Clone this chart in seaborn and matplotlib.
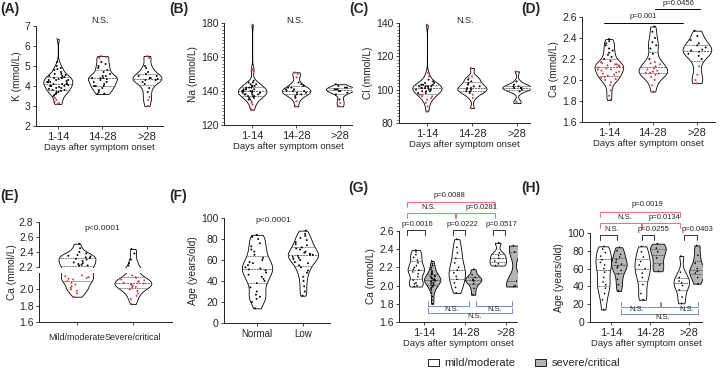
import numpy as np
import pandas as pd
import matplotlib.pyplot as plt
import seaborn as sns
from matplotlib.patches import Patch
from matplotlib.collections import PolyCollection, PathCollection
from matplotlib.ticker import MultipleLocator
import warnings
warnings.filterwarnings("ignore")

# ---- data ----
days = ["1-14", "14-28", ">28"]
severity = ["mild/moderate", "severe/critical"]
ca_status = ["Normal", "Low"]

k_1_14 = [3.1, 3.15, 3.2, 3.3, 3.4, 3.5, 3.55, 3.6, 3.65, 3.7, 3.7, 3.75, 3.8, 3.8, 3.85, 3.9, 3.9,
          3.95, 4.0, 4.0, 4.0, 4.05, 4.1, 4.1, 4.1, 4.15, 4.2, 4.2, 4.2, 4.25, 4.3, 4.3, 4.3, 4.35,
          4.4, 4.4, 4.4, 4.45, 4.5, 4.5, 4.55, 4.6, 4.6, 4.7, 4.8, 4.85, 4.9, 5.0, 5.2, 6.35]
k_14_28 = [3.6, 3.62, 3.7, 3.8, 3.9, 4.0, 4.0, 4.0, 4.1, 4.2, 4.2, 4.3, 4.35, 4.4, 4.4, 4.4, 4.5,
           4.5, 4.6, 4.7, 4.8, 4.9, 5.0, 5.1, 5.2, 5.4, 5.45, 5.5]
k_over28 = [3.0, 3.3, 3.45, 3.7, 3.9, 4.1, 4.2, 4.3, 4.3, 4.35, 4.4, 4.4, 4.5, 4.5, 4.6, 4.7,
            4.9, 5.0, 5.4, 5.5]

na_1_14 = [129, 130, 132, 133, 134, 135, 135, 136, 136, 137, 137, 137, 138, 138, 138, 138, 139,
           139, 139, 139, 140, 140, 140, 140, 140, 141, 141, 141, 141, 142, 142, 142, 143, 143,
           143, 144, 144, 145, 145, 146, 152, 153, 179]
na_14_28 = [131, 134, 136, 137, 138, 138, 139, 139, 140, 140, 140, 141, 141, 142, 142, 143, 144,
            145, 148, 150, 151]
na_over28 = [131, 133, 135, 138, 139, 140, 140, 141, 141, 141, 142, 142, 143, 144]

cl_1_14 = [87, 90, 92, 94, 95, 96, 96, 97, 97, 98, 98, 99, 99, 99, 100, 100, 100, 101, 101, 101,
           101, 102, 102, 102, 102, 103, 103, 103, 104, 104, 105, 106, 108, 110, 139]
cl_14_28 = [89, 95, 97, 98, 99, 99, 100, 100, 101, 101, 102, 102, 103, 104, 105, 106, 107, 108, 113]
cl_over28 = [92, 93, 99, 100, 101, 101, 101, 101, 102, 102, 103, 105, 111]

ca_1_14 = [1.81, 1.85, 1.9, 1.95, 1.98, 2.0, 2.01, 2.02, 2.03, 2.04, 2.05, 2.06, 2.07, 2.08, 2.09,
           2.1, 2.1, 2.11, 2.12, 2.13, 2.14, 2.14, 2.15, 2.15, 2.16, 2.17, 2.18, 2.2, 2.22, 2.24,
           2.26, 2.28, 2.3, 2.33, 2.35, 2.37, 2.39]
ca_14_28 = [1.89, 1.95, 2.0, 2.03, 2.05, 2.06, 2.07, 2.07, 2.08, 2.09, 2.1, 2.11, 2.13, 2.15, 2.16,
            2.17, 2.2, 2.25, 2.3, 2.33, 2.36, 2.4, 2.46, 2.51]
ca_over28 = [1.97, 2.0, 2.05, 2.13, 2.2, 2.23, 2.25, 2.27, 2.28, 2.29, 2.31, 2.33, 2.35, 2.38,
             2.42, 2.47]

ca_mild = [1.91, 1.95, 1.98, 2.0, 2.02, 2.04, 2.06, 2.08, 2.1, 2.12, 2.13, 2.14, 2.15, 2.16, 2.17,
           2.22, 2.22, 2.23, 2.24, 2.25, 2.26, 2.28, 2.3, 2.31, 2.32, 2.33, 2.34, 2.35, 2.36, 2.38,
           2.4, 2.45, 2.51]
ca_severe = [1.82, 1.88, 1.92, 1.95, 1.98, 2.0, 2.02, 2.03, 2.04, 2.05, 2.06, 2.07, 2.08, 2.09,
             2.1, 2.11, 2.12, 2.14, 2.15, 2.17, 2.22, 2.25, 2.3, 2.38, 2.44]

age_normal = [14, 20, 23, 25, 27, 30, 34, 38, 40, 42, 44, 46, 48, 50, 51, 52, 53, 55, 57, 58, 60,
              62, 65, 68, 70, 73, 76, 80, 82, 84]
age_low = [26, 30, 35, 40, 44, 48, 50, 53, 55, 57, 58, 60, 61, 62, 63, 64, 65, 65, 66, 67, 68, 70,
           71, 72, 74, 75, 77, 79, 81, 83, 85, 88]

g_ca_mild = {
    "1-14": [1.99, 2.0, 2.02, 2.03, 2.06, 2.1, 2.13, 2.15, 2.17, 2.18, 2.2, 2.22, 2.25, 2.28, 2.31,
             2.34, 2.37, 2.39],
    "14-28": [1.92, 1.98, 2.03, 2.07, 2.1, 2.14, 2.17, 2.2, 2.25, 2.3, 2.36, 2.42, 2.51],
    ">28": [2.22, 2.24, 2.27, 2.3, 2.33, 2.36, 2.47],
}
g_ca_severe = {
    "1-14": [1.8, 1.84, 1.88, 1.92, 1.95, 1.97, 1.98, 1.99, 2.0, 2.01, 2.02, 2.03, 2.03, 2.04, 2.05,
             2.05, 2.06, 2.06, 2.07, 2.07, 2.08, 2.08, 2.09, 2.1, 2.1, 2.11, 2.12, 2.13, 2.14,
             2.15, 2.16, 2.18, 2.2, 2.22, 2.24, 2.27],
    "14-28": [1.9, 1.97, 2.02, 2.05, 2.06, 2.07, 2.09, 2.12, 2.18],
    ">28": [1.99, 2.0, 2.05, 2.37, 2.44],
}
h_age_mild = {
    "1-14": [14, 25, 32, 38, 42, 45, 50, 56, 60, 64, 67, 70, 74, 78, 82, 85],
    "14-28": [25, 32, 42, 50, 55, 60, 64, 68, 73, 79, 85],
    ">28": [21, 28, 36, 41, 44, 46, 50, 56, 74],
}
h_age_severe = {
    "1-14": [35, 42, 48, 54, 58, 61, 63, 65, 67, 70, 73, 76, 80, 84],
    "14-28": [57, 64, 72, 79, 83, 88],
    ">28": [43, 50, 55, 57, 60, 66, 75, 86],
}

RED = "#e0303a"
BR_RED = "#e57373"
BR_BLUE = "#7b8cc8"
GREY = "#b4b4b4"

sns.set_style("ticks")
plt.rcParams['font.family'] = ['Liberation Sans', 'DejaVu Sans']

fig = plt.figure(figsize=(7.2, 3.7), dpi=100)


def add_ax(left, top, right, bottom):
    return fig.add_axes([left / 720, 1 - bottom / 370, (right - left) / 720, (bottom - top) / 370])


def long_df(groups, arrays, low=None, high=None):
    rows = [(g, v) for g, arr in zip(groups, arrays) for v in arr]
    df = pd.DataFrame(rows, columns=["group", "value"])
    abn = np.zeros(len(df), dtype=bool)
    if low is not None:
        abn |= df["value"] < low
    if high is not None:
        abn |= df["value"] > high
    df["flag"] = np.where(abn, "abn", "ok")
    return df


def style(ax, xfs=8):
    sns.despine(ax=ax)
    ax.tick_params(axis='y', labelsize=7.5, length=2.5, width=0.6, pad=1.5)
    ax.tick_params(axis='x', labelsize=xfs, length=2, width=0.6, pad=2)
    for s in ax.spines.values():
        s.set_linewidth(0.7)
        s.set_color("#222222")


def fit_dots(ax, jmax, fill=0.8):
    # spread the jittered dots in proportion to the violin width at their height
    shapes = []
    for c in ax.collections:
        if isinstance(c, PolyCollection):
            for p in c.get_paths():
                v = p.vertices
                cx = (v[:, 0].min() + v[:, 0].max()) / 2
                right = v[v[:, 0] >= cx]
                o = np.argsort(right[:, 1])
                shapes.append((cx, right[o, 1], right[o, 0] - cx))
    if not shapes:
        return
    centers = np.array([s[0] for s in shapes])
    for c in ax.collections:
        if isinstance(c, PathCollection):
            off = c.get_offsets()
            if len(off) == 0:
                continue
            off = np.array(off, dtype=float)
            for k in range(len(off)):
                x, y = off[k]
                j = np.argmin(np.abs(centers - x))
                cx, ys, hw = shapes[j]
                w = np.interp(y, ys, hw)
                off[k, 0] = cx + (x - cx) / jmax * w * fill
            c.set_offsets(off)


def simple_violins(ax, df, order, width=0.65, seed=1):
    sns.violinplot(data=df, x="group", y="value", order=order, color="white",
                   linecolor="black", linewidth=0.6, inner="quart", cut=0, bw_adjust=0.6,
                   density_norm="width", width=width,
                   inner_kws=dict(color="0.35", linewidth=0.6), ax=ax)
    np.random.seed(seed)
    sns.stripplot(data=df, x="group", y="value", order=order, hue="flag",
                  hue_order=["ok", "abn"], palette={"ok": "black", "abn": RED},
                  size=1.4, jitter=0.2, legend=False, ax=ax)
    fit_dots(ax, 0.2)


def hue_violins(ax, mild, severe, seed=5):
    rows = [(d, severity[0], v) for d in days for v in mild[d]]
    rows += [(d, severity[1], v) for d in days for v in severe[d]]
    df = pd.DataFrame(rows, columns=["group", "sev", "value"])
    sns.violinplot(data=df, x="group", y="value", order=days, hue="sev", hue_order=severity,
                   palette={severity[0]: "white", severity[1]: GREY}, linecolor="black",
                   linewidth=0.6, inner="quart", cut=0, bw_adjust=0.6, density_norm="width",
                   width=0.8, inner_kws=dict(color="0.3", linewidth=0.6), legend=False, ax=ax)
    np.random.seed(seed)
    sns.stripplot(data=df, x="group", y="value", order=days, hue="sev", hue_order=severity,
                  palette=["black", "black"], dodge=True, jitter=0.08, size=1.2,
                  legend=False, ax=ax)
    fit_dots(ax, 0.08)


def bracket(ax, x0, x1, y, tick, color):
    ax.plot([x0, x0, x1, x1], [y - tick, y, y, y - tick], color=color, lw=0.7, clip_on=False)


def note(ax, x, y, s, fs=5.5):
    ax.text(x, y, s, ha="center", va="center", fontsize=fs, clip_on=False)


# ---- top row ----
top_panels = [
    ((36, 26, 163, 126), [k_1_14, k_14_28, k_over28], 3.5, 5.3, (2, 7), np.arange(2, 8, 1),
     "K (mmol/L)", (-0.49, 2.36), (0.95, 7.26), None),
    ((224, 23, 352, 125), [na_1_14, na_14_28, na_over28], 135, 147, (120, 180),
     np.arange(120, 181, 20), "Na (mmol/L)", (-0.64, 2.27), (0.98, 181.2), 2),
    ((399, 23, 530, 123), [cl_1_14, cl_14_28, cl_over28], 98, 106, (80, 140),
     np.arange(80, 141, 20), "Cl (mmol/L)", (-0.62, 2.29), (0.84, 141.2), 2),
    ((582, 17, 715, 122), [ca_1_14, ca_14_28, ca_over28], 2.18, None, (1.6, 2.6),
     np.round(np.arange(1.6, 2.61, 0.2), 1), "Ca (mmol/L)", (-0.61, 2.41), None, None),
]
for i, (box, arrays, lo, hi, ylim, yticks, ylab, xlim, ns_pos, minor) in enumerate(top_panels):
    ax = add_ax(*box)
    simple_violins(ax, long_df(days, arrays, lo, hi), days, seed=i + 1)
    ax.set_ylim(*ylim)
    ax.set_xlim(*xlim)
    ax.set_yticks(yticks)
    if ylab.startswith("Ca"):
        ax.set_yticklabels([f"{t:.1f}" for t in yticks])
    if minor:
        ax.yaxis.set_minor_locator(MultipleLocator(minor))
        ax.tick_params(axis='y', which='minor', length=1.5, width=0.5)
    ax.set_ylabel(ylab, fontsize=7.3, labelpad=2)
    ax.set_xlabel("Days after symptom onset", fontsize=6.8, labelpad=1)
    style(ax)
    if ns_pos:
        note(ax, ns_pos[0], ns_pos[1], "N.S.", fs=6.5)
    if ylab.startswith("Ca"):
        bracket(ax, -0.11, 1.68, 2.543, 0, "black")
        note(ax, 0.77, 2.60, "p=0.001")
        bracket(ax, 1.05, 2.07, 2.676, 0, "black")
        note(ax, 1.57, 2.733, "p=0.0456")

# ---- (E) broken axis ----
e_df = long_df(["Mild/moderate", "Severe/critical"], [ca_mild, ca_severe], 2.19)
e_order = ["Mild/moderate", "Severe/critical"]
ax_eu = add_ax(39, 222, 172, 267)
ax_el = add_ax(39, 273, 172, 322)
for ax, ylim, yt in [(ax_eu, (2.2, 2.8), [2.2, 2.4, 2.6, 2.8]), (ax_el, (1.6, 2.2), [1.6, 1.8, 2.0])]:
    simple_violins(ax, e_df, e_order, width=0.66, seed=9)
    ax.set_ylim(*ylim)
    ax.set_xlim(-0.68, 1.70)
    ax.set_yticks(yt)
    ax.set_yticklabels([f"{t:.1f}" for t in yt])
    ax.set_xlabel("")
    ax.set_ylabel("")
    style(ax, xfs=6.4)
ax_eu.spines["bottom"].set_visible(False)
ax_eu.tick_params(axis='x', bottom=False, labelbottom=False)
ax_el.tick_params(axis='x', pad=6)
fig.text(12 / 720, 1 - 272 / 370, "Ca (mmol/L)", rotation=90, fontsize=7.3, ha="center", va="center")
note(ax_eu, 0.46, 2.72, "p<0.0001", fs=6)

# ---- (F) ----
ax = add_ax(224, 218, 330, 323)
simple_violins(ax, long_df(ca_status, [age_normal, age_low]), ca_status, width=0.66, seed=11)
ax.set_ylim(0, 100)
ax.set_xlim(-0.72, 1.59)
ax.set_yticks(np.arange(0, 101, 20))
ax.set_ylabel("Age (years/old)", fontsize=7.3, labelpad=2)
ax.set_xlabel("")
style(ax, xfs=7)
note(ax, 0.35, 98, "p<0.0001", fs=6)

# ---- (G) ----
ax = add_ax(399, 231, 517, 322)
hue_violins(ax, g_ca_mild, g_ca_severe, seed=12)
ax.set_ylim(1.6, 2.6)
ax.set_xlim(-0.61, 2.27)
ax.set_yticks(np.round(np.arange(1.6, 2.61, 0.2), 1))
ax.set_yticklabels([f"{t:.1f}" for t in np.arange(1.6, 2.61, 0.2)])
ax.set_ylabel("Ca (mmol/L)", fontsize=7.3, labelpad=2)
ax.set_xlabel("Days after symptom onset", fontsize=6.8, labelpad=1)
style(ax)
t = 0.055
bracket(ax, -0.41, 1.73, 2.92, t, BR_RED); note(ax, 0.63, 2.985, "p=0.0088")
bracket(ax, -0.41, 0.76, 2.80, t, BR_RED); note(ax, 0.12, 2.855, "N.S.")
bracket(ax, 0.78, 1.73, 2.80, t, BR_RED); note(ax, 1.41, 2.855, "p=0.0281")
bracket(ax, -0.41, 0.02, 2.61, t, "#333333"); note(ax, -0.17, 2.675, "p=0.0016")
bracket(ax, 0.71, 1.0, 2.61, t, "#333333"); note(ax, 0.95, 2.675, "p=0.0222")
bracket(ax, 1.68, 1.98, 2.61, t, "#333333"); note(ax, 1.9, 2.675, "p=0.0517")
bracket(ax, 0.1, 1.1, 1.776, -t, BR_BLUE); note(ax, 0.68, 1.735, "N.S.")
bracket(ax, 1.27, 2.15, 1.776, -t, BR_BLUE); note(ax, 1.73, 1.735, "N.S.")
bracket(ax, 0.1, 2.15, 1.70, -t, BR_BLUE); note(ax, 1.24, 1.655, "N.S.")

# ---- (H) ----
ax = add_ax(590, 233, 702, 322)
hue_violins(ax, h_age_mild, h_age_severe, seed=13)
ax.set_ylim(0, 100)
ax.set_xlim(-0.54, 2.33)
ax.set_yticks(np.arange(0, 101, 20))
ax.set_ylabel("Age (years/old)", fontsize=7.3, labelpad=2)
ax.set_xlabel("Days after symptom onset", fontsize=6.8, labelpad=1)
style(ax)
t = 5.6
bracket(ax, -0.28, 1.77, 123.6, t, BR_RED); note(ax, 0.92, 131.5, "p=0.0019")
bracket(ax, -0.28, 0.77, 111, t, BR_RED); note(ax, 0.36, 117, "N.S.")
bracket(ax, 0.79, 1.77, 111, t, BR_RED); note(ax, 1.38, 117, "p=0.0134")
bracket(ax, -0.28, 0.15, 97.8, t, "#333333"); note(ax, 0.03, 103.4, "N.S.")
bracket(ax, 0.79, 1.1, 97.8, t, "#333333"); note(ax, 1.08, 103.4, "p=0.0255")
bracket(ax, 1.87, 2.2, 97.8, t, "#333333"); note(ax, 2.2, 103.4, "p=0.0403")
bracket(ax, 0.26, 1.26, 16.9, -t, BR_BLUE); note(ax, 0.67, 13.5, "N.S.")
bracket(ax, 1.28, 2.23, 16.9, -t, BR_BLUE); note(ax, 1.95, 13.5, "N.S.")
bracket(ax, 0.26, 2.23, 9.0, -t, BR_BLUE); note(ax, 1.33, 4.5, "N.S.")

# ---- panel letters ----
for lab, x, y in [("(A)", 0, 2), ("(B)", 169, 2), ("(C)", 349, 2), ("(D)", 521, 2),
                  ("(E)", 0, 189), ("(F)", 169, 189), ("(G)", 348, 181), ("(H)", 521, 181)]:
    fig.text(x / 720, 1 - y / 370, lab, fontsize=10, fontweight="bold", ha="left", va="top")

handles = [Patch(facecolor="white", edgecolor="black", linewidth=0.6, label="mild/moderate"),
           Patch(facecolor=GREY, edgecolor="black", linewidth=0.6, label="severe/critical")]
fig.legend(handles=handles, loc="center", bbox_to_anchor=(524 / 720, 7 / 370), ncol=2,
           frameon=False, fontsize=8, handlelength=1.0, handleheight=0.6,
           columnspacing=1.8, handletextpad=0.5)

fig.savefig("out.png", dpi=100)
